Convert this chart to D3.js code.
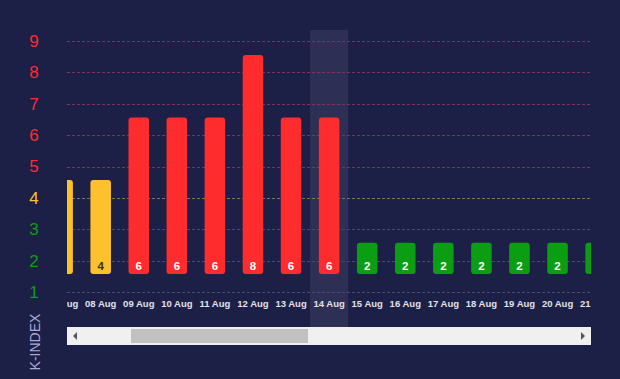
<!DOCTYPE html>
<html lang="en">
<head>
<meta charset="UTF-8">
<title>k-index</title>
<script src="https://d3js.org/d3.v7.min.js"></script>
<style>
  html, body { margin: 0; padding: 0; background: #1c1f46; }
  svg { display: block; font-family: "Liberation Sans", Arial, sans-serif; }
</style>
</head>
<body>
<script>
// data
var days = ["07 Aug", "08 Aug", "09 Aug", "10 Aug", "11 Aug", "12 Aug", "13 Aug", "14 Aug",
            "15 Aug", "16 Aug", "17 Aug", "18 Aug", "19 Aug", "20 Aug", "21 Aug"];
var kValues = [4, 4, 6, 6, 6, 8, 6, 6, 2, 2, 2, 2, 2, 2, 2];
var kTicks = [1, 2, 3, 4, 5, 6, 7, 8, 9];
var selectedDay = "14 Aug";

var W = 620, H = 379;
var left = 67, right = 591;

function kColor(k) {
  if (k >= 5) return "#fe2c2c";
  if (k == 4) return "#fcc12c";
  return "#0c9e12";
}
function gridColor(k) {
  if (k >= 5) return "#83305e";
  if (k == 4) return "#857650";
  return "#444a7c";
}

var svg = d3.select("body").append("svg")
  .attr("width", W)
  .attr("height", H);

svg.append("rect").attr("width", W).attr("height", H).attr("fill", "#1c1f46");

// x: one band per day
var x = d3.scaleBand()
  .domain(days)
  .range([43.6, 43.6 + days.length * 38.07])
  .paddingInner(0.46)
  .paddingOuter(0.23);

// bars start at k = 1
var y = d3.scaleLinear().domain([1, 9]).range([274, 23.6]);
// label rows sit a bit lower than the bar scale
var yLab = d3.scaleLinear().domain([1, 9]).range([292, 41]);

svg.append("clipPath").attr("id", "plot")
  .append("rect").attr("x", left).attr("y", 0).attr("width", right - left).attr("height", H);

// selected day highlight
svg.append("rect")
  .attr("x", x(selectedDay) + x.bandwidth() / 2 - x.step() / 2)
  .attr("y", 30)
  .attr("width", x.step())
  .attr("height", 297)
  .attr("fill", "#ffffff")
  .attr("opacity", 0.08);

// grid
svg.append("g").selectAll("line")
  .data(kTicks)
  .enter().append("line")
  .attr("x1", left).attr("x2", right)
  .attr("y1", d => Math.round(yLab(d)) + 0.5)
  .attr("y2", d => Math.round(yLab(d)) + 0.5)
  .attr("stroke", gridColor)
  .attr("stroke-width", 1)
  .attr("stroke-dasharray", "3,2");

// y labels
var yAxis = svg.append("g")
  .attr("transform", "translate(42,0)")
  .call(d3.axisLeft(yLab).tickValues(kTicks).tickSize(0).tickPadding(0).tickFormat(d3.format("d")));
yAxis.select(".domain").remove();
yAxis.selectAll("text")
  .attr("x", -8)
  .attr("text-anchor", "middle")
  .attr("font-size", 17)
  .attr("font-family", "Liberation Sans, Arial, sans-serif")
  .attr("fill", d => kColor(d));

svg.append("text")
  .attr("transform", "translate(40,342) rotate(-90)")
  .attr("text-anchor", "middle")
  .attr("font-size", 14)
  .attr("fill", "#a9a9dc")
  .text("K-INDEX");

var plot = svg.append("g").attr("clip-path", "url(#plot)");

// bars
plot.selectAll(".bar")
  .data(days)
  .enter().append("rect")
  .attr("class", "bar")
  .attr("x", d => x(d))
  .attr("y", (d, i) => y(kValues[i]))
  .attr("width", x.bandwidth())
  .attr("height", (d, i) => y(1) - y(kValues[i]))
  .attr("rx", 3)
  .attr("fill", (d, i) => kColor(kValues[i]));

// value inside bar
plot.selectAll(".val")
  .data(days)
  .enter().append("text")
  .attr("class", "val")
  .attr("x", d => x(d) + x.bandwidth() / 2)
  .attr("y", 270)
  .attr("text-anchor", "middle")
  .attr("font-size", 11.5)
  .attr("font-weight", "bold")
  .attr("fill", (d, i) => kValues[i] == 4 ? "#3a3320" : "#ffffff")
  .text((d, i) => kValues[i]);

// day labels
var xAxis = plot.append("g")
  .attr("transform", "translate(0,300)")
  .call(d3.axisBottom(x).tickSize(0).tickPadding(0));
xAxis.select(".domain").remove();
xAxis.selectAll("text")
  .attr("dy", "0.71em")
  .attr("font-size", 9.5)
  .attr("font-weight", "bold")
  .attr("font-family", "Liberation Sans, Arial, sans-serif")
  .attr("fill", "#e2e2ea");

// scrollbar
var sb = svg.append("g");
sb.append("rect").attr("x", left).attr("y", 327).attr("width", right - left).attr("height", 18).attr("fill", "#f0f0f0");
sb.append("rect").attr("x", 131).attr("y", 329).attr("width", 177).attr("height", 14).attr("fill", "#c1c1c1");
sb.append("path").attr("d", "M77,332 L73,336 L77,340 Z").attr("fill", "#555");
sb.append("path").attr("d", "M581,332 L585,336 L581,340 Z").attr("fill", "#555");
</script>
</body>
</html>
